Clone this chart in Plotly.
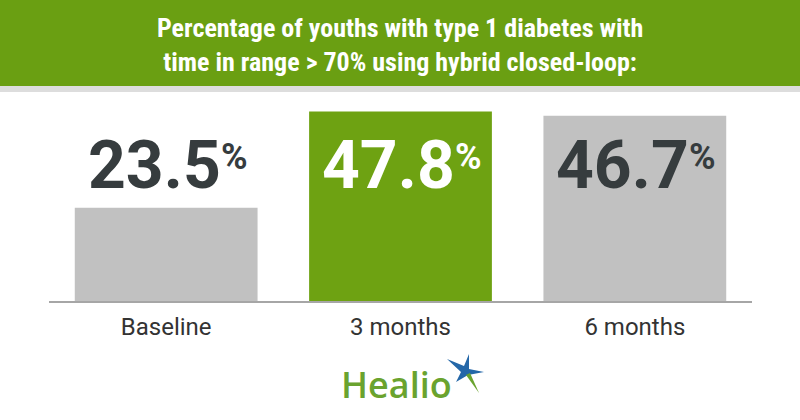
import plotly.graph_objects as go

categories = ["Baseline", "3 months", "6 months"]
values = [23.5, 47.8, 46.7]
bar_colors = ["#c1c1c1", "#6ea212", "#c1c1c1"]
label_colors = ["#363c3e", "#ffffff", "#363c3e"]
title_text = "Percentage of youths with type 1 diabetes with<br>time in range > 70% using hybrid closed-loop:"

W, H = 800, 420
def py(px):
    return (H - px) / H
def px_(x):
    return x / W

fig = go.Figure()
fig.add_trace(go.Bar(x=categories, y=values, marker=dict(color=bar_colors, line=dict(width=0)),
                     hoverinfo="skip"))

# header band
fig.add_shape(type="rect", xref="paper", yref="paper", x0=0, x1=1, y0=py(86), y1=1,
              fillcolor="#6a9f12", line=dict(width=0), layer="below")
fig.add_shape(type="rect", xref="paper", yref="paper", x0=0, x1=1, y0=py(92), y1=py(86),
              fillcolor="#dddddd", line=dict(width=0), layer="below")

fig.add_annotation(text=title_text, xref="paper", yref="paper", x=0.5, y=py(45),
                   xanchor="center", yanchor="middle", showarrow=False,
                   font=dict(family="Roboto Condensed, Liberation Sans Narrow, DejaVu Sans Condensed, Roboto",
                             size=26, color="white", weight="bold"),
                   align="center")

for c, v, col in zip(categories, values, label_colors):
    fig.add_annotation(text=f"{v:.1f}", x=c, xref="x", yref="paper", y=py(206),
                       xanchor="center", yanchor="bottom", xshift=-12, showarrow=False,
                       font=dict(family="Roboto", size=66, color=col, weight="bold"))
    fig.add_annotation(text="%", x=c, xref="x", yref="paper", y=py(134),
                       xanchor="center", yanchor="top", xshift=68, showarrow=False,
                       font=dict(family="Roboto", size=36, color=col, weight="bold"))

# logo
fig.add_annotation(text="Healio", xref="paper", yref="paper", x=px_(339), y=py(384),
                   xanchor="left", yanchor="middle", showarrow=False,
                   font=dict(family="Open Sans, Lato", size=36, color="#6aa32e", weight=600))

def path_from(points):
    s = "M " + " L ".join(f"{px_(x):.5f},{py(y):.5f}" for x, y in points) + " Z"
    return s

cx, cy = 465, 371
star_pts = [(447, 359), (cx - 1, cy - 5), (469, 354), (cx + 4, cy - 2), (484, 372),
            (cx + 3, cy + 4), (456, 382), (cx - 4, cy + 1)]
fig.add_shape(type="path", xref="paper", yref="paper", path=path_from(star_pts),
              fillcolor="#2467a8", line=dict(width=0))
green_pts = [(cx + 1, cy + 4), (cx + 5, cy + 2), (479, 393)]
fig.add_shape(type="path", xref="paper", yref="paper", path=path_from(green_pts),
              fillcolor="#6aa32e", line=dict(width=0))

fig.update_layout(
    width=W, height=H, margin=dict(l=0, r=0, t=0, b=0),
    paper_bgcolor="white", plot_bgcolor="white", showlegend=False, bargap=0.22,
    xaxis=dict(domain=[49/W, 752/W], range=[-0.5, 2.5], showline=True, linecolor="#a6a6a6",
               linewidth=2, ticks="", showgrid=False, zeroline=False, ticklabelstandoff=3,
               tickfont=dict(family="Roboto", size=24, color="#333333")),
    yaxis=dict(domain=[py(301), py(63)], range=[0, 60], visible=False, showgrid=False),
)
fig.write_html("out.html")
